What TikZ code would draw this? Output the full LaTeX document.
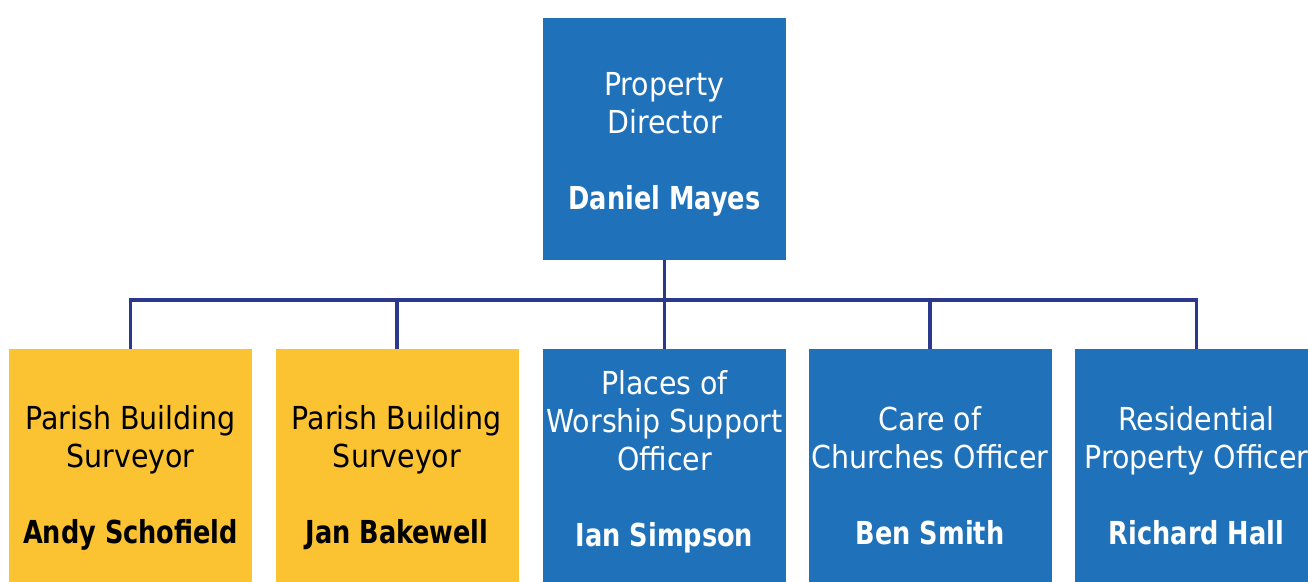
\documentclass[tikz,border=0pt]{standalone}
\usepackage{fontspec}
\setmainfont{DejaVu Sans Condensed}[BoldFeatures={FakeStretch=0.9}]
\usepackage{xcolor}
\definecolor{azul}{RGB}{31, 113, 185}
\definecolor{amarillo}{RGB}{251, 194, 50}
\definecolor{linea}{RGB}{43, 57, 140}
\usetikzlibrary{positioning}
\newcommand{\hueco}{\\[21.6pt]}

\begin{document}
\begin{tikzpicture}[x=0.2mm, y=-0.2mm,
        caja/.style={minimum width=48.6mm, minimum height=48.4mm, inner sep=0pt},
        cajaazul/.style={caja, fill=azul},
        cajaamar/.style={caja, fill=amarillo},
        texto/.style={align=center, inner sep=0pt, font=\fontsize{18}{21.6}\selectfont},
        rama/.style={draw=linea, line width=1.8pt}]
        \useasboundingbox (0,0) rectangle (1308,581);
        % director arriba
        \node[cajaazul] (dir) at (664.5,139) {};
        \node[texto, text=white] (dirt) at (664.5,144) {Property\\Director\hueco\textbf{Daniel Mayes}};
        % fila de abajo
        \node[cajaamar] (pbs1) at (130.5,470) {};
        \node[cajaamar] (pbs2) at (397,470) {};
        \node[cajaazul] (pws) at (664.5,470) {};
        \node[cajaazul] (coc) at (930,470) {};
        \node[cajaazul] (rpo) at (1196.5,470) {};
        \node[texto] (pbs1t) at (130.5,478) {Parish Building\\Surveyor\hueco\textbf{Andy Schofield}};
        \node[texto] (pbs2t) at (397,478) {Parish Building\\Surveyor\hueco\textbf{Jan Bakewell}};
        \node[texto, text=white] (pwst) at (664.5,462) {Places of\\Worship Support\\Officer\hueco\textbf{Ian Simpson}};
        \node[texto, text=white] (coct) at (930,475.5) {Care of\\Churches Officer\hueco\textbf{Ben Smith}};
        \node[texto, text=white] (rpot) at (1196.5,475.5) {Residential\\Property Officer\hueco\textbf{Richard Hall}};
        % lineas
        \coordinate (barra) at (664.5,300);
        \draw[rama] (dir.south) -- (barra);
        \draw[rama] (pbs1.north) |- (barra) -| (rpo.north);
        \foreach \n in {pbs2, pws, coc}
            \draw[rama] (\n.north) -- (\n.north |- barra);
\end{tikzpicture}
\end{document}
